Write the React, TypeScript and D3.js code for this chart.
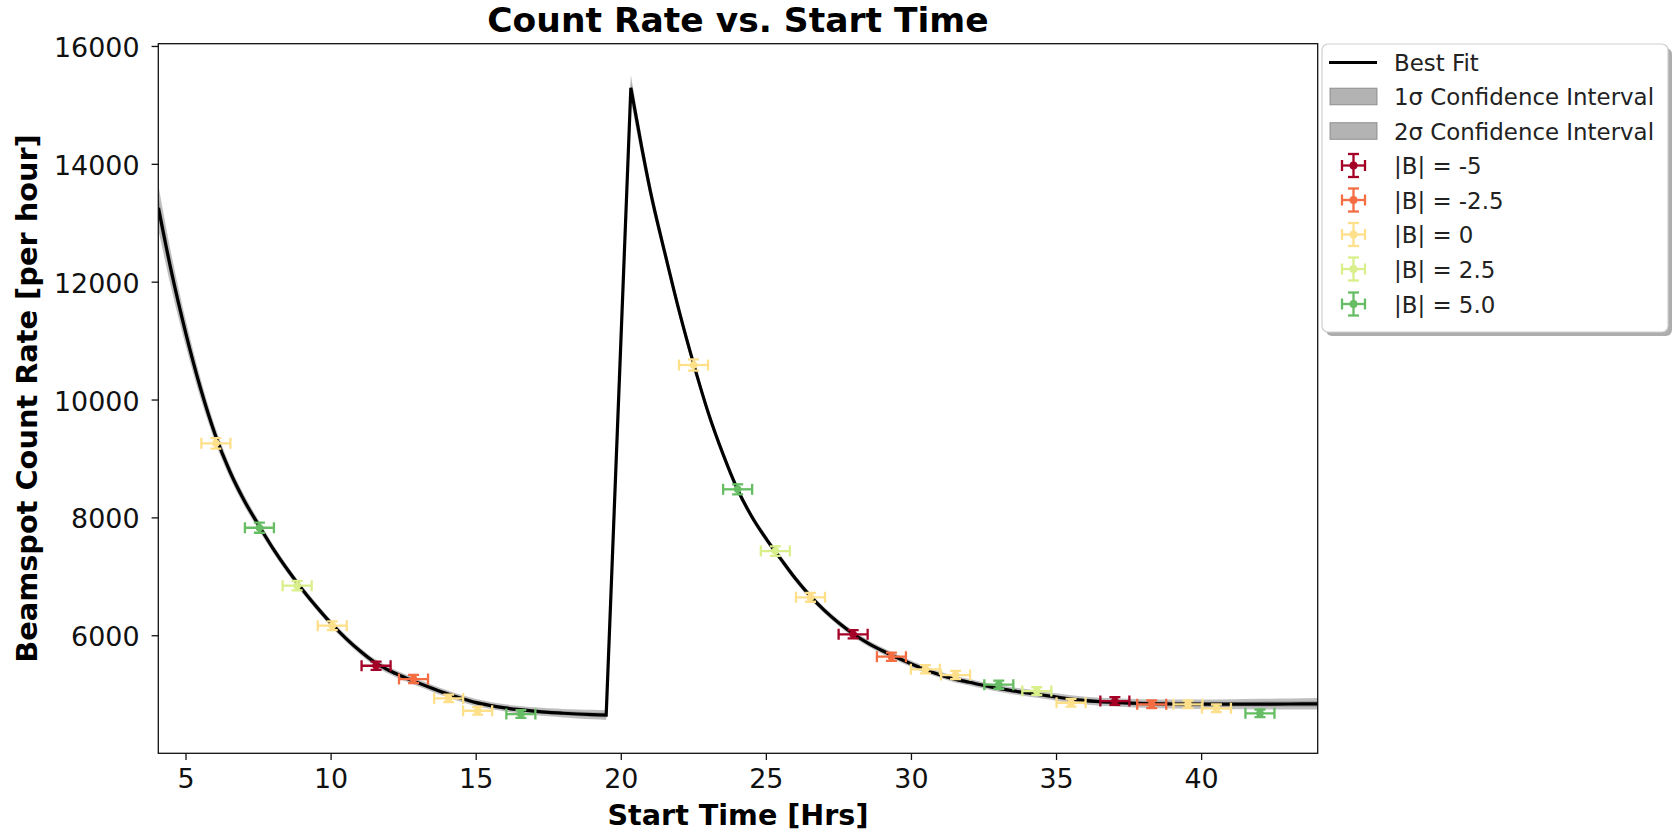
import React from 'react';
import * as d3 from 'd3';

const W = 1675;
const H = 832;
const PLOT = { left: 158.3, right: 1317.7, top: 43.7, bottom: 753.3 };

const xDomain = [4.045, 44];
const yDomain = [4005, 16047];
const xTicks = [5, 10, 15, 20, 25, 30, 35, 40];
const yTicks = [6000, 8000, 10000, 12000, 14000, 16000];

// Best-fit curve, first fill (before the jump)
const fitX1 = [4.05, 4.5, 5, 5.5, 6, 6.5, 7, 7.5, 8, 8.5, 9, 9.5, 10, 10.5, 11, 11.5, 12, 12.5, 13, 13.5, 14, 14.5, 15, 15.5, 16, 16.5, 17, 17.5, 18, 18.5, 19, 19.48];
const fitY1 = [13260, 12170, 11120, 10200, 9420, 8800, 8300, 7880, 7480, 7120, 6790, 6490, 6210, 5960, 5740, 5550, 5410, 5300, 5200, 5105, 5015, 4935, 4865, 4815, 4775, 4745, 4720, 4700, 4685, 4672, 4662, 4654];
const sig1 = [190, 145, 110, 85, 66, 54, 46, 40, 35, 32, 30, 29, 29, 29, 29, 29, 29, 29, 29, 29, 29, 29, 30, 30, 31, 32, 33, 34, 36, 38, 40, 42];

// Best-fit curve, second fill (after the jump)
const fitX2 = [20.33, 20.7, 21, 21.5, 22, 22.5, 23, 23.5, 24, 24.5, 25, 25.5, 26, 26.5, 27, 27.5, 28, 28.5, 29, 29.5, 30, 30.5, 31, 31.5, 32, 32.5, 33, 33.5, 34, 34.5, 35, 35.5, 36, 37, 38, 39, 40, 41, 42, 43, 44];
const fitY2 = [15300, 14300, 13550, 12500, 11500, 10600, 9780, 9090, 8490, 8020, 7640, 7300, 6970, 6680, 6430, 6215, 6030, 5875, 5745, 5630, 5520, 5420, 5335, 5262, 5210, 5155, 5107, 5065, 5030, 4995, 4960, 4925, 4900, 4870, 4850, 4842, 4838, 4838, 4840, 4842, 4845];
const sig2 = [110, 85, 70, 58, 50, 44, 39, 35, 32, 30, 29, 28, 28, 27, 27, 27, 27, 27, 27, 27, 27, 27, 27, 28, 28, 28, 29, 29, 30, 30, 31, 32, 33, 35, 37, 39, 41, 43, 45, 47, 49];

// Measurements
const ptX = [6.03, 7.53, 8.83, 10.04, 11.55, 12.84, 14.05, 15.05, 16.54, 22.49, 24.01, 25.31, 26.52, 27.99, 29.31, 30.48, 31.52, 33.01, 34.32, 35.5, 37.01, 38.28, 39.53, 40.51, 42.01];
const ptY = [9265, 7833, 6849, 6170, 5491, 5265, 4937, 4727, 4671, 10594, 8485, 7437, 6652, 6024, 5644, 5430, 5333, 5170, 5061, 4863, 4892, 4836, 4836, 4768, 4683];
const ptXErr = [0.5, 0.5, 0.5, 0.5, 0.5, 0.5, 0.5, 0.5, 0.5, 0.5, 0.5, 0.5, 0.5, 0.5, 0.5, 0.5, 0.5, 0.5, 0.5, 0.5, 0.5, 0.5, 0.5, 0.5, 0.5];
const ptYErr = [90, 85, 80, 75, 70, 70, 65, 65, 65, 95, 85, 80, 75, 70, 70, 70, 70, 70, 65, 65, 65, 65, 65, 65, 65];
const ptGroup = [2, 4, 3, 2, 0, 1, 2, 2, 4, 2, 4, 3, 2, 0, 1, 2, 2, 4, 3, 2, 0, 1, 2, 2, 4];

const groupLabels = ['|B| = -5', '|B| = -2.5', '|B| = 0', '|B| = 2.5', '|B| = 5.0'];
const groupColors = ['#a50026', '#f46d43', '#fee08b', '#d9ef8b', '#66bd63'];

const FONT = '"DejaVu Sans", sans-serif';

export default function App() {
  const x = d3.scaleLinear().domain(xDomain).range([PLOT.left, PLOT.right]);
  const y = d3.scaleLinear().domain(yDomain).range([PLOT.bottom, PLOT.top]);

  const seg1 = fitX1.map((v, i) => ({ x: v, y: fitY1[i], s: sig1[i] }));
  const seg2 = fitX2.map((v, i) => ({ x: v, y: fitY2[i], s: sig2[i] }));
  const jump = [seg1[seg1.length - 1], seg2[0]];

  const line = d3.line<any>().x((d) => x(d.x)).y((d) => y(d.y)).curve(d3.curveMonotoneX);
  const p1 = line(seg1) || '';
  const p2 = line(seg2) || '';
  const fitPath = p1 + 'L' + p2.slice(1);

  const band = (k: number, curve: any) =>
    d3.area<any>().x((d) => x(d.x)).y0((d) => y(d.y - k * d.s)).y1((d) => y(d.y + k * d.s)).curve(curve);

  const bandPaths = [2, 1].map((k) => [
    band(k, d3.curveMonotoneX)(seg1) || '',
    band(k, d3.curveLinear)(jump) || '',
    band(k, d3.curveMonotoneX)(seg2) || '',
  ]);

  const cap = 5.5;
  const legendRows = [62.5, 96.5, 131, 165.5, 200, 234.5, 269, 304];
  const legX = 1322;
  const legTextX = 1394;
  const legFont = 22.9;

  return (
    <svg width={W} height={H} style={{ position: 'absolute', left: 0, top: 0, display: 'block', background: '#fff' }} fontFamily={FONT}>
      <defs>
        <clipPath id="plotclip">
          <rect x={PLOT.left} y={PLOT.top} width={PLOT.right - PLOT.left} height={PLOT.bottom - PLOT.top} />
        </clipPath>
      </defs>
      <rect x={0} y={0} width={W} height={H} fill="#fff" />

      <g clipPath="url(#plotclip)">
        {bandPaths.map((ps, i) =>
          ps.map((d, j) => <path key={`b${i}-${j}`} d={d} fill="#808080" fillOpacity={0.5} stroke="none" />)
        )}
        <path d={fitPath} fill="none" stroke="#000" strokeWidth={3.2} strokeLinejoin="miter" />
        {ptX.map((px, i) => {
          const c = groupColors[ptGroup[i]];
          const cx = x(px);
          const cy = y(ptY[i]);
          const x0 = x(px - ptXErr[i]);
          const x1 = x(px + ptXErr[i]);
          const y0 = y(ptY[i] - ptYErr[i]);
          const y1 = y(ptY[i] + ptYErr[i]);
          return (
            <g key={`p${i}`} stroke={c} strokeWidth={2.3} fill={c}>
              <line x1={x0} x2={x1} y1={cy} y2={cy} />
              <line x1={x0} x2={x0} y1={cy - cap} y2={cy + cap} />
              <line x1={x1} x2={x1} y1={cy - cap} y2={cy + cap} />
              <line x1={cx} x2={cx} y1={y0} y2={y1} />
              <line x1={cx - cap} x2={cx + cap} y1={y0} y2={y0} />
              <line x1={cx - cap} x2={cx + cap} y1={y1} y2={y1} />
              <circle cx={cx} cy={cy} r={3.8} stroke="none" />
            </g>
          );
        })}
      </g>

      {/* axes frame */}
      <rect x={PLOT.left} y={PLOT.top} width={PLOT.right - PLOT.left} height={PLOT.bottom - PLOT.top} fill="none" stroke="#111" strokeWidth={1.3} />

      {xTicks.map((t) => (
        <g key={`xt${t}`}>
          <line x1={x(t)} x2={x(t)} y1={PLOT.bottom} y2={PLOT.bottom + 6.7} stroke="#111" strokeWidth={1.3} />
          <text x={x(t)} y={788.3} textAnchor="middle" fontSize={26.9} fill="#111">{t}</text>
        </g>
      ))}
      {yTicks.map((t) => (
        <g key={`yt${t}`}>
          <line x1={PLOT.left - 6.7} x2={PLOT.left} y1={y(t)} y2={y(t)} stroke="#111" strokeWidth={1.3} />
          <text x={139.5} y={y(t) + 10.5} textAnchor="end" fontSize={26.9} fill="#111">{t}</text>
        </g>
      ))}

      <text x={(PLOT.left + PLOT.right) / 2} y={32} textAnchor="middle" fontSize={34.5} fontWeight="bold" fill="#000">Count Rate vs. Start Time</text>
      <text x={(PLOT.left + PLOT.right) / 2} y={825} textAnchor="middle" fontSize={28.6} fontWeight="bold" fill="#000">Start Time [Hrs]</text>
      <text transform={`translate(36.5, ${(PLOT.top + PLOT.bottom) / 2}) rotate(-90)`} textAnchor="middle" fontSize={28.8} fontWeight="bold" fill="#000">Beamspot Count Rate [per hour]</text>

      {/* legend */}
      <g>
        <rect x={legX + 4} y={44 + 4} width={346} height={288} rx={6} fill="#8a8a8a" fillOpacity={0.7} />
        <rect x={legX} y={44} width={346} height={288} rx={6} fill="#fff" stroke="#cfcfcf" strokeWidth={1.2} />
        <line x1={1329} x2={1377} y1={legendRows[0]} y2={legendRows[0]} stroke="#000" strokeWidth={3} />
        <text x={legTextX} y={legendRows[0] + 8.5} fontSize={legFont} fill="#222">Best Fit</text>
        {[1, 2].map((k, i) => (
          <g key={`lp${k}`}>
            <rect x={1330} y={legendRows[k] - 8.3} width={47} height={16.6} fill="#808080" fillOpacity={0.6} stroke="#808080" strokeOpacity={0.8} strokeWidth={1} />
            <text x={legTextX} y={legendRows[k] + 8.5} fontSize={legFont} fill="#222">{i === 0 ? '1σ Confidence Interval' : '2σ Confidence Interval'}</text>
          </g>
        ))}
        {groupLabels.map((lab, i) => {
          const cy = legendRows[3 + i];
          const cx = 1353.5;
          const c = groupColors[i];
          const h = 11.5;
          return (
            <g key={`lg${i}`}>
              <g stroke={c} strokeWidth={2.3} fill={c}>
                <line x1={cx - h} x2={cx + h} y1={cy} y2={cy} />
                <line x1={cx - h} x2={cx - h} y1={cy - cap} y2={cy + cap} />
                <line x1={cx + h} x2={cx + h} y1={cy - cap} y2={cy + cap} />
                <line x1={cx} x2={cx} y1={cy - h} y2={cy + h} />
                <line x1={cx - cap} x2={cx + cap} y1={cy - h} y2={cy - h} />
                <line x1={cx - cap} x2={cx + cap} y1={cy + h} y2={cy + h} />
                <circle cx={cx} cy={cy} r={4} stroke="none" />
              </g>
              <text x={legTextX} y={cy + 8.5} fontSize={legFont} fill="#222">{lab}</text>
            </g>
          );
        })}
      </g>
    </svg>
  );
}
